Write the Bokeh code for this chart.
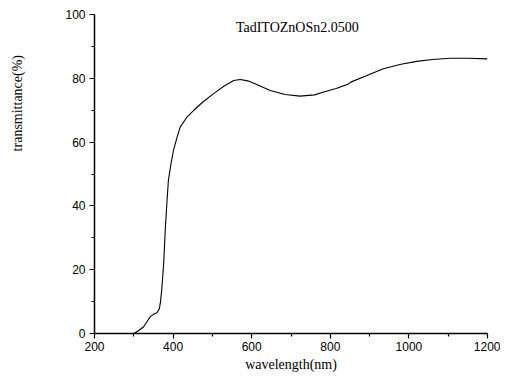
import math
from bokeh.plotting import figure
from bokeh.layouts import row
from bokeh.models import FixedTicker, Label, Range1d, Title
from bokeh.embed import file_html
from bokeh.resources import INLINE

wavelength = [300, 310, 325, 335, 342, 350, 359, 365, 368, 371, 376, 380, 384, 388, 395,
              401, 410, 418, 435, 452, 475, 503, 530, 554, 571, 590, 610, 647, 685, 723,
              760, 783, 815, 846, 852, 890, 935, 980, 1020, 1060, 1105, 1150, 1200]
transmittance = [0, 0.7, 2.1, 4.0, 5.3, 6.0, 6.5, 7.8, 10, 13.6, 21.9, 32.4, 40.5, 48, 53.5,
                 57.4, 61.5, 64.7, 67.8, 69.9, 72.5, 75.2, 77.6, 79.3, 79.6, 79.2, 78.2, 76.2, 74.9, 74.4,
                 74.8, 75.7, 76.8, 78.2, 78.8, 80.7, 83.0, 84.4, 85.3, 85.9, 86.3, 86.3, 86.1]

x_ticks = [200, 400, 600, 800, 1000, 1200]
x_minor = [300, 500, 700, 900, 1100]
y_ticks = [0, 20, 40, 60, 80, 100]
y_minor = [10, 30, 50, 70, 90]

title_text = "TadITOZnOSn2.0500"
x_label = "wavelength(nm)"
y_label = "transmittance(%)"

# narrow side panel carrying the y-axis title
side = figure(width=30, height=374, output_backend="svg", toolbar_location=None,
              x_range=Range1d(0, 1), y_range=Range1d(0, 1),
              x_axis_type=None, y_axis_type=None,
              min_border_left=0, min_border_right=0, min_border_top=0, min_border_bottom=0)
side.outline_line_color = None
side.grid.visible = False
side.background_fill_color = "white"
side.border_fill_color = "white"
side.add_layout(Label(x=0.57, y=0.722, text=y_label, text_font="Liberation Serif",
                      text_font_size="14px", text_align="center", text_baseline="middle",
                      angle=math.pi / 2, text_color="black"))

p = figure(width=470, height=374, output_backend="svg", toolbar_location=None,
           x_range=Range1d(200, 1200), y_range=Range1d(0, 100),
           min_border_left=64, min_border_right=13, min_border_top=14, min_border_bottom=41)
p.background_fill_color = "white"
p.border_fill_color = "white"
p.outline_line_color = None
p.grid.visible = False

p.line(wavelength, transmittance, line_color="black", line_width=1.1)

for ax, ticks, minor in ((p.xaxis, x_ticks, x_minor), (p.yaxis, y_ticks, y_minor)):
    ax.ticker = FixedTicker(ticks=ticks, minor_ticks=minor)
    ax.axis_line_width = 1.5
    ax.axis_line_color = "black"
    ax.major_tick_in = 0
    ax.major_tick_out = 5
    ax.minor_tick_in = 0
    ax.minor_tick_out = 3
    ax.major_tick_line_color = "black"
    ax.minor_tick_line_color = "black"
    ax.major_tick_line_width = 1.2
    ax.minor_tick_line_width = 1.2
    ax.major_label_text_font = "Liberation Sans"
    ax.major_label_text_font_size = "12px"
    ax.major_label_text_color = "black"

p.xaxis.major_label_standoff = 3
p.yaxis.major_label_standoff = 4

p.add_layout(Label(x=716, y=96, text=title_text, text_font="Liberation Serif",
                   text_font_size="14px", text_align="center", text_baseline="middle",
                   text_color="black"))
p.add_layout(Title(text=x_label, text_font="Liberation Serif", text_font_size="14px",
                   text_font_style="normal", align="center", standoff=2,
                   text_color="black"), "below")

layout = row(side, p, spacing=0)
open("out.html", "w").write(file_html(layout, INLINE))
